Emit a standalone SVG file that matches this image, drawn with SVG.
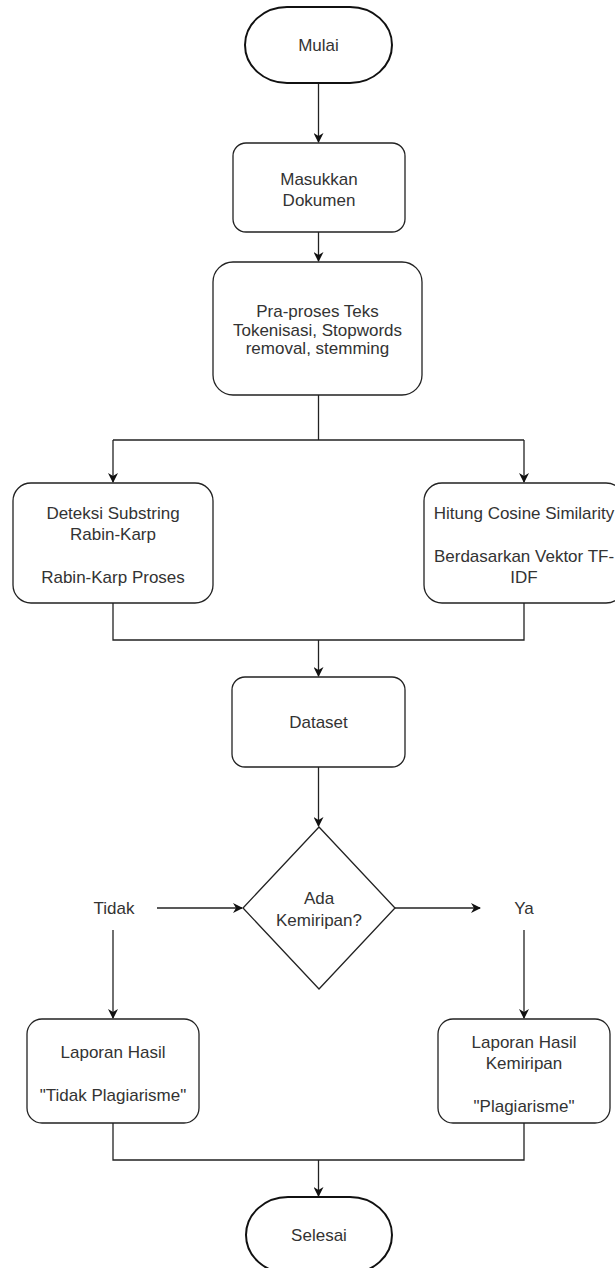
<svg xmlns="http://www.w3.org/2000/svg" width="615" height="1268" viewBox="0 0 615 1268">
<defs>
<style>
.box{fill:#fff;stroke:#222;stroke-width:1.3}
.term{fill:#fff;stroke:#111;stroke-width:2}
.ln{fill:none;stroke:#222;stroke-width:1.3}
text{font-family:"Liberation Sans",Arial,sans-serif;font-size:17px;fill:#333;text-anchor:middle}
</style>
<marker id="ah" viewBox="0 0 10 10" refX="9" refY="5" markerWidth="10" markerHeight="10" markerUnits="userSpaceOnUse" orient="auto">
<path d="M0,0 L10,5 L0,10 L3,5 Z" fill="#111"/>
</marker>
</defs>
<rect width="615" height="1268" fill="#fff"/>
<g id="connectors">
<path class="ln" d="M318.5,83 V142" marker-end="url(#ah)"/>
<path class="ln" d="M318.5,232 V261" marker-end="url(#ah)"/>
<path class="ln" d="M318.5,395 V440"/>
<path class="ln" d="M113,440 H524"/>
<path class="ln" d="M113,440 V482" marker-end="url(#ah)"/>
<path class="ln" d="M524,440 V482" marker-end="url(#ah)"/>
<path class="ln" d="M113,603 V640 H524 V603"/>
<path class="ln" d="M318.5,640 V676" marker-end="url(#ah)"/>
<path class="ln" d="M318.5,767 V826" marker-end="url(#ah)"/>
<path class="ln" d="M157,908 H242" marker-end="url(#ah)"/>
<path class="ln" d="M395,908 H480" marker-end="url(#ah)"/>
<path class="ln" d="M113,930 V1018" marker-end="url(#ah)"/>
<path class="ln" d="M524,930 V1018" marker-end="url(#ah)"/>
<path class="ln" d="M113,1123 V1160 H524 V1123"/>
<path class="ln" d="M318.5,1160 V1196" marker-end="url(#ah)"/>
</g>
<g id="mulai">
<rect class="term" x="245" y="7" width="147" height="76" rx="42" ry="38"/>
<text x="318.5" y="51">Mulai</text>
</g>
<g id="masukkan">
<rect class="box" x="233" y="143" width="172" height="89" rx="13"/>
<text x="319" y="185">Masukkan</text>
<text x="319" y="206">Dokumen</text>
</g>
<g id="praproses">
<rect class="box" x="213" y="262" width="209" height="133" rx="20"/>
<text x="317.5" y="317">Pra-proses Teks</text>
<text x="317.5" y="335.5">Tokenisasi, Stopwords</text>
<text x="317.5" y="354">removal, stemming</text>
</g>
<g id="rabinkarp">
<rect class="box" x="13" y="483" width="200" height="120" rx="18"/>
<text x="113" y="519">Deteksi Substring</text>
<text x="113" y="540">Rabin-Karp</text>
<text x="113" y="583">Rabin-Karp Proses</text>
</g>
<g id="cosine">
<rect class="box" x="424" y="483" width="200" height="120" rx="18"/>
<text x="524" y="519">Hitung Cosine Similarity</text>
<text x="524" y="562">Berdasarkan Vektor TF-</text>
<text x="524" y="583">IDF</text>
</g>
<g id="dataset">
<rect class="box" x="232" y="677" width="173" height="90" rx="13"/>
<text x="318.5" y="728">Dataset</text>
</g>
<g id="decision">
<polygon class="box" points="319,827 395,908 319,989 243,908"/>
<text x="319" y="904">Ada</text>
<text x="319" y="926">Kemiripan?</text>
</g>
<g id="tidak">
<text x="114" y="914">Tidak</text>
</g>
<g id="ya">
<text x="524" y="914">Ya</text>
</g>
<g id="laporan-tidak">
<rect class="box" x="27" y="1019" width="172" height="104" rx="15"/>
<text x="113" y="1058">Laporan Hasil</text>
<text x="113" y="1101">"Tidak Plagiarisme"</text>
</g>
<g id="laporan-ya">
<rect class="box" x="438" y="1019" width="172" height="104" rx="15"/>
<text x="524" y="1048">Laporan Hasil</text>
<text x="524" y="1069">Kemiripan</text>
<text x="524" y="1112">"Plagiarisme"</text>
</g>
<g id="selesai">
<rect class="term" x="246" y="1197" width="146" height="76" rx="42" ry="38"/>
<text x="319" y="1241">Selesai</text>
</g>
</svg>
